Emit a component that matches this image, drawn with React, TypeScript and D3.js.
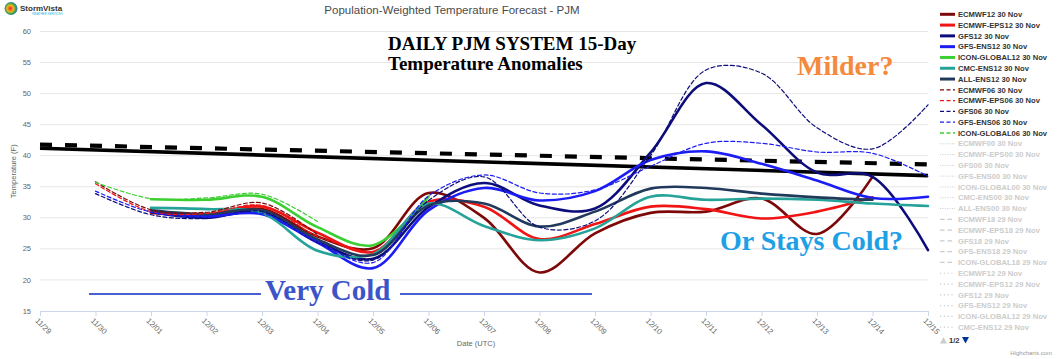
import React from "react";
import * as d3 from "d3";

const W = 1060;
const H = 359;

const dates = ["11/29","11/30","12/01","12/02","12/03","12/04","12/05","12/06","12/07","12/08","12/09","12/10","12/11","12/12","12/13","12/14","12/15"];
const yTicks = [15, 20, 25, 30, 35, 40, 45, 50, 55, 60];

const N = null;
// values per day, index 0 = 11/29 ... 16 = 12/15
const ecmwf12 =    [N, N, 31.0, 30.4, 31.4, 27.0, 25.1, 34.0, 30.0, 21.2, 27.5, 30.8, 31.0, 33.1, 27.4, 36.6, N];
const ecmwfEps12 = [N, N, 30.8, 30.6, 31.8, 27.6, 24.5, 32.6, 31.8, 26.6, 29.0, 31.8, 31.4, 29.9, 31.0, 33.3, N];
const gfs12 =      [N, N, 30.9, 30.0, 31.0, 26.2, 23.4, 31.7, 35.6, 32.0, 31.5, 40.5, 51.7, 45.0, 37.3, 36.6, 24.8];
const gfsEns12 =   [N, N, 31.1, 30.3, 30.6, 26.0, 21.9, 31.2, 34.8, 32.8, 34.3, 39.3, 40.7, 38.7, 36.0, 33.2, 33.4];
const icon12 =     [N, N, 33.0, 32.9, 33.4, 28.5, 25.6, 33.4, N, N, N, N, N, N, N, N, N];
const cmcEns12 =   [N, N, 31.6, 31.4, 30.8, 24.7, 24.2, 32.3, 28.7, 26.4, 28.3, 33.4, 32.9, 33.1, 32.9, 32.3, 31.9];
const allEns12 =   [N, N, 31.2, 30.6, 31.2, 26.5, 24.0, 32.0, 32.3, 28.6, 31.0, 34.7, 34.8, 33.9, 33.3, 32.9, N];
const ecmwf06 =    [N, 35.8, 31.3, 30.9, 32.4, 27.3, N, N, N, N, N, N, N, N, N, N, N];
const ecmwfEps06 = [N, 35.5, 31.0, 30.7, 32.0, 27.0, 24.3, N, N, N, N, N, N, N, N, N, N];
const gfs06 =      [N, 33.9, 30.5, 29.9, 31.0, 26.0, 23.2, 32.8, 36.6, 28.5, 29.5, 40.0, 53.8, 53.3, 44.5, 41.1, 48.2];
const gfsEns06 =   [N, 34.3, 30.9, 30.1, 30.7, 26.2, 22.8, 33.5, 36.9, 34.0, 34.5, 38.3, 42.0, 42.0, 40.6, 40.4, 36.7];
const icon06 =     [N, 35.7, 33.1, 33.2, 33.8, 29.4, N, N, N, N, N, N, N, N, N, N, N];

// hand-drawn normal reference lines (value at 11/29, value at 12/15)
const normalSolid = [41.2, 36.8];
const normalDashed = [41.8, 38.6];

const activeNames = ["ECMWF12 30 Nov","ECMWF-EPS12 30 Nov","GFS12 30 Nov","GFS-ENS12 30 Nov","ICON-GLOBAL12 30 Nov","CMC-ENS12 30 Nov","ALL-ENS12 30 Nov","ECMWF06 30 Nov","ECMWF-EPS06 30 Nov","GFS06 30 Nov","GFS-ENS06 30 Nov","ICON-GLOBAL06 30 Nov"];
const hidden00 = ["ECMWF00 30 Nov","ECMWF-EPS00 30 Nov","GFS00 30 Nov","GFS-ENS00 30 Nov","ICON-GLOBAL00 30 Nov","CMC-ENS00 30 Nov","ALL-ENS00 30 Nov"];
const hidden18 = ["ECMWF18 29 Nov","ECMWF-EPS18 29 Nov","GFS18 29 Nov","GFS-ENS18 29 Nov","ICON-GLOBAL18 29 Nov"];
const hidden12 = ["ECMWF12 29 Nov","ECMWF-EPS12 29 Nov","GFS12 29 Nov","GFS-ENS12 29 Nov","ICON-GLOBAL12 29 Nov","CMC-ENS12 29 Nov"];

const C = {
  ecmwf: "#7d0808",
  eps: "#f01414",
  gfs: "#0c0c7a",
  gfsEns: "#1c1cf5",
  icon: "#3ccf32",
  cmc: "#26a399",
  all: "#213a5c",
};

const series = [
  { v: ecmwf12, c: C.ecmwf, w: 2.6, d: null },
  { v: ecmwfEps12, c: C.eps, w: 2.6, d: null },
  { v: gfs12, c: C.gfs, w: 2.6, d: null },
  { v: gfsEns12, c: C.gfsEns, w: 2.6, d: null },
  { v: icon12, c: C.icon, w: 2.6, d: null },
  { v: cmcEns12, c: C.cmc, w: 2.6, d: null },
  { v: allEns12, c: C.all, w: 2.6, d: null },
  { v: ecmwf06, c: C.ecmwf, w: 1.2, d: "4,2.5" },
  { v: ecmwfEps06, c: C.eps, w: 1.2, d: "4,2.5" },
  { v: gfs06, c: C.gfs, w: 1.2, d: "4,2.5" },
  { v: gfsEns06, c: C.gfsEns, w: 1.2, d: "4,2.5" },
  { v: icon06, c: C.icon, w: 1.2, d: "4,2.5" },
];

const left = 40, right = 928, top = 31.5, bottom = 311;

export default function App() {
  const x = d3.scaleLinear().domain([0, dates.length - 1]).range([left, right]);
  const y = d3.scaleLinear().domain([15, 60]).range([bottom, top]);
  const line = d3
    .line<number | null>()
    .defined((d) => d != null)
    .x((_, i) => x(i))
    .y((d) => y(d as number))
    .curve(d3.curveCatmullRom.alpha(0.5));
  const straight = (vals: number[]) =>
    d3.line<number>().x((_, i) => x(i * (dates.length - 1))).y((d) => y(d))(vals) || "";

  const legendItems = [
    ...activeNames.map((n, i) => ({ n, active: true, color: series[i].c, dash: series[i].d, w: series[i].d ? 1.3 : 3 })),
    ...hidden00.map((n) => ({ n, active: false, color: "#cccccc", dash: "1,1.4", w: 1 })),
    ...hidden18.map((n) => ({ n, active: false, color: "#cccccc", dash: "4.5,3", w: 1.2 })),
    ...hidden12.map((n) => ({ n, active: false, color: "#cccccc", dash: "1.2,2.6", w: 1.2 })),
  ];
  const font = "'Liberation Sans', Arial, sans-serif";
  const serif = "'Liberation Serif', 'Times New Roman', serif";

  return (
    <svg width={W} height={H} style={{ position: "absolute", left: 0, top: 0, background: "#fff" }} fontFamily={font}>
      <rect x={0} y={0} width={W} height={H} fill="#fff" />
      {/* logo */}
      <defs>
        <radialGradient id="lg" cx="45%" cy="50%" r="55%">
          <stop offset="0%" stopColor="#e8262a" />
          <stop offset="45%" stopColor="#f5b21d" />
          <stop offset="75%" stopColor="#3aa64a" />
          <stop offset="100%" stopColor="#2a6fc2" />
        </radialGradient>
      </defs>
      <circle cx={11} cy={8.5} r={6.5} fill="url(#lg)" />
      <text x={20} y={10.5} fontSize={8} fontWeight="bold" fill="#333">StormVista</text>
      <text x={32} y={14.5} fontSize={3} fill="#2ab0e0">WEATHER SERVICES</text>

      {/* title */}
      <text x={452} y={14} textAnchor="middle" fontSize={11.5} fill="#4a4a4a">Population-Weighted Temperature Forecast - PJM</text>

      {/* grid */}
      {yTicks.filter((t) => t > 15).map((t) => (
        <line key={t} x1={left} x2={right} y1={y(t)} y2={y(t)} stroke="#e6e6e6" strokeWidth={1} />
      ))}
      {yTicks.map((t) => (
        <text key={"yl" + t} x={31} y={y(t) + 2.6} textAnchor="end" fontSize={7.5} fill="#666">{t}</text>
      ))}
      <text transform={`translate(16,${(top + bottom) / 2}) rotate(-90)`} textAnchor="middle" fontSize={7.5} fill="#666">Temperature (F)</text>

      {/* x axis */}
      <line x1={left} x2={right} y1={bottom + 0.5} y2={bottom + 0.5} stroke="#ccd6eb" />
      {dates.map((dt, i) => (
        <g key={dt}>
          <line x1={x(i) + 0.5} x2={x(i) + 0.5} y1={bottom} y2={bottom + 5} stroke="#ccd6eb" />
          <text transform={`translate(${x(i) - 1},${bottom + 6}) rotate(45)`} dy="0.75em" fontSize={7.8} fill="#666">{dt}</text>
        </g>
      ))}
      <text x={476} y={346} textAnchor="middle" fontSize={7.5} fill="#666">Date (UTC)</text>

      {/* normals */}
      <path d={straight(normalSolid)} stroke="#000" strokeWidth={3.6} fill="none" />
      <path d={straight(normalDashed)} stroke="#000" strokeWidth={4.2} strokeDasharray="12,13" fill="none" />

      {/* series */}
      {series.map((s, i) => (
        <path key={i} d={line(s.v) || ""} fill="none" stroke={s.c} strokeWidth={s.w} strokeDasharray={s.d || undefined} strokeLinejoin="round" strokeLinecap="round" />
      ))}

      {/* annotations */}
      <text x={388} y={50} fontFamily={serif} fontWeight="bold" fontSize={19} fill="#000">DAILY PJM SYSTEM 15-Day</text>
      <text x={388} y={70} fontFamily={serif} fontWeight="bold" fontSize={19} fill="#000">Temperature Anomalies</text>
      <text x={797} y={75} fontFamily={serif} fontWeight="bold" fontSize={28} fill="#f58a3c">Milder?</text>
      <text x={720} y={250} fontFamily={serif} fontWeight="bold" fontSize={28} fill="#1ea0e6">Or Stays Cold?</text>
      <text x={265} y={300} fontFamily={serif} fontWeight="bold" fontSize={29} fill="#3b55c9">Very Cold</text>
      <line x1={89} x2={261} y1={294} y2={294} stroke="#4a5fd0" strokeWidth={2} />
      <line x1={400} x2={592} y1={294} y2={294} stroke="#4a5fd0" strokeWidth={2} />

      {/* legend */}
      {legendItems.map((it, i) => {
        const cy = 14.3 + i * 10.79;
        return (
          <g key={it.n}>
            <line x1={940} x2={955} y1={cy} y2={cy} stroke={it.color} strokeWidth={it.w} strokeDasharray={it.dash || undefined} />
            <text x={958} y={cy + 2.7} fontSize={7.6} fontWeight="bold" fill={it.active ? "#333" : "#cccccc"}>{it.n}</text>
          </g>
        );
      })}
      <path d="M940,343.5 L943.5,337 L947,343.5 Z" fill="#cccccc" />
      <text x={949} y={343} fontSize={7.6} fontWeight="bold" fill="#333">1/2</text>
      <path d="M962,337 L969,337 L965.5,343.5 Z" fill="#003399" />
      <text x={1052} y={355} textAnchor="end" fontSize={6} fill="#999">Highcharts.com</text>
    </svg>
  );
}
